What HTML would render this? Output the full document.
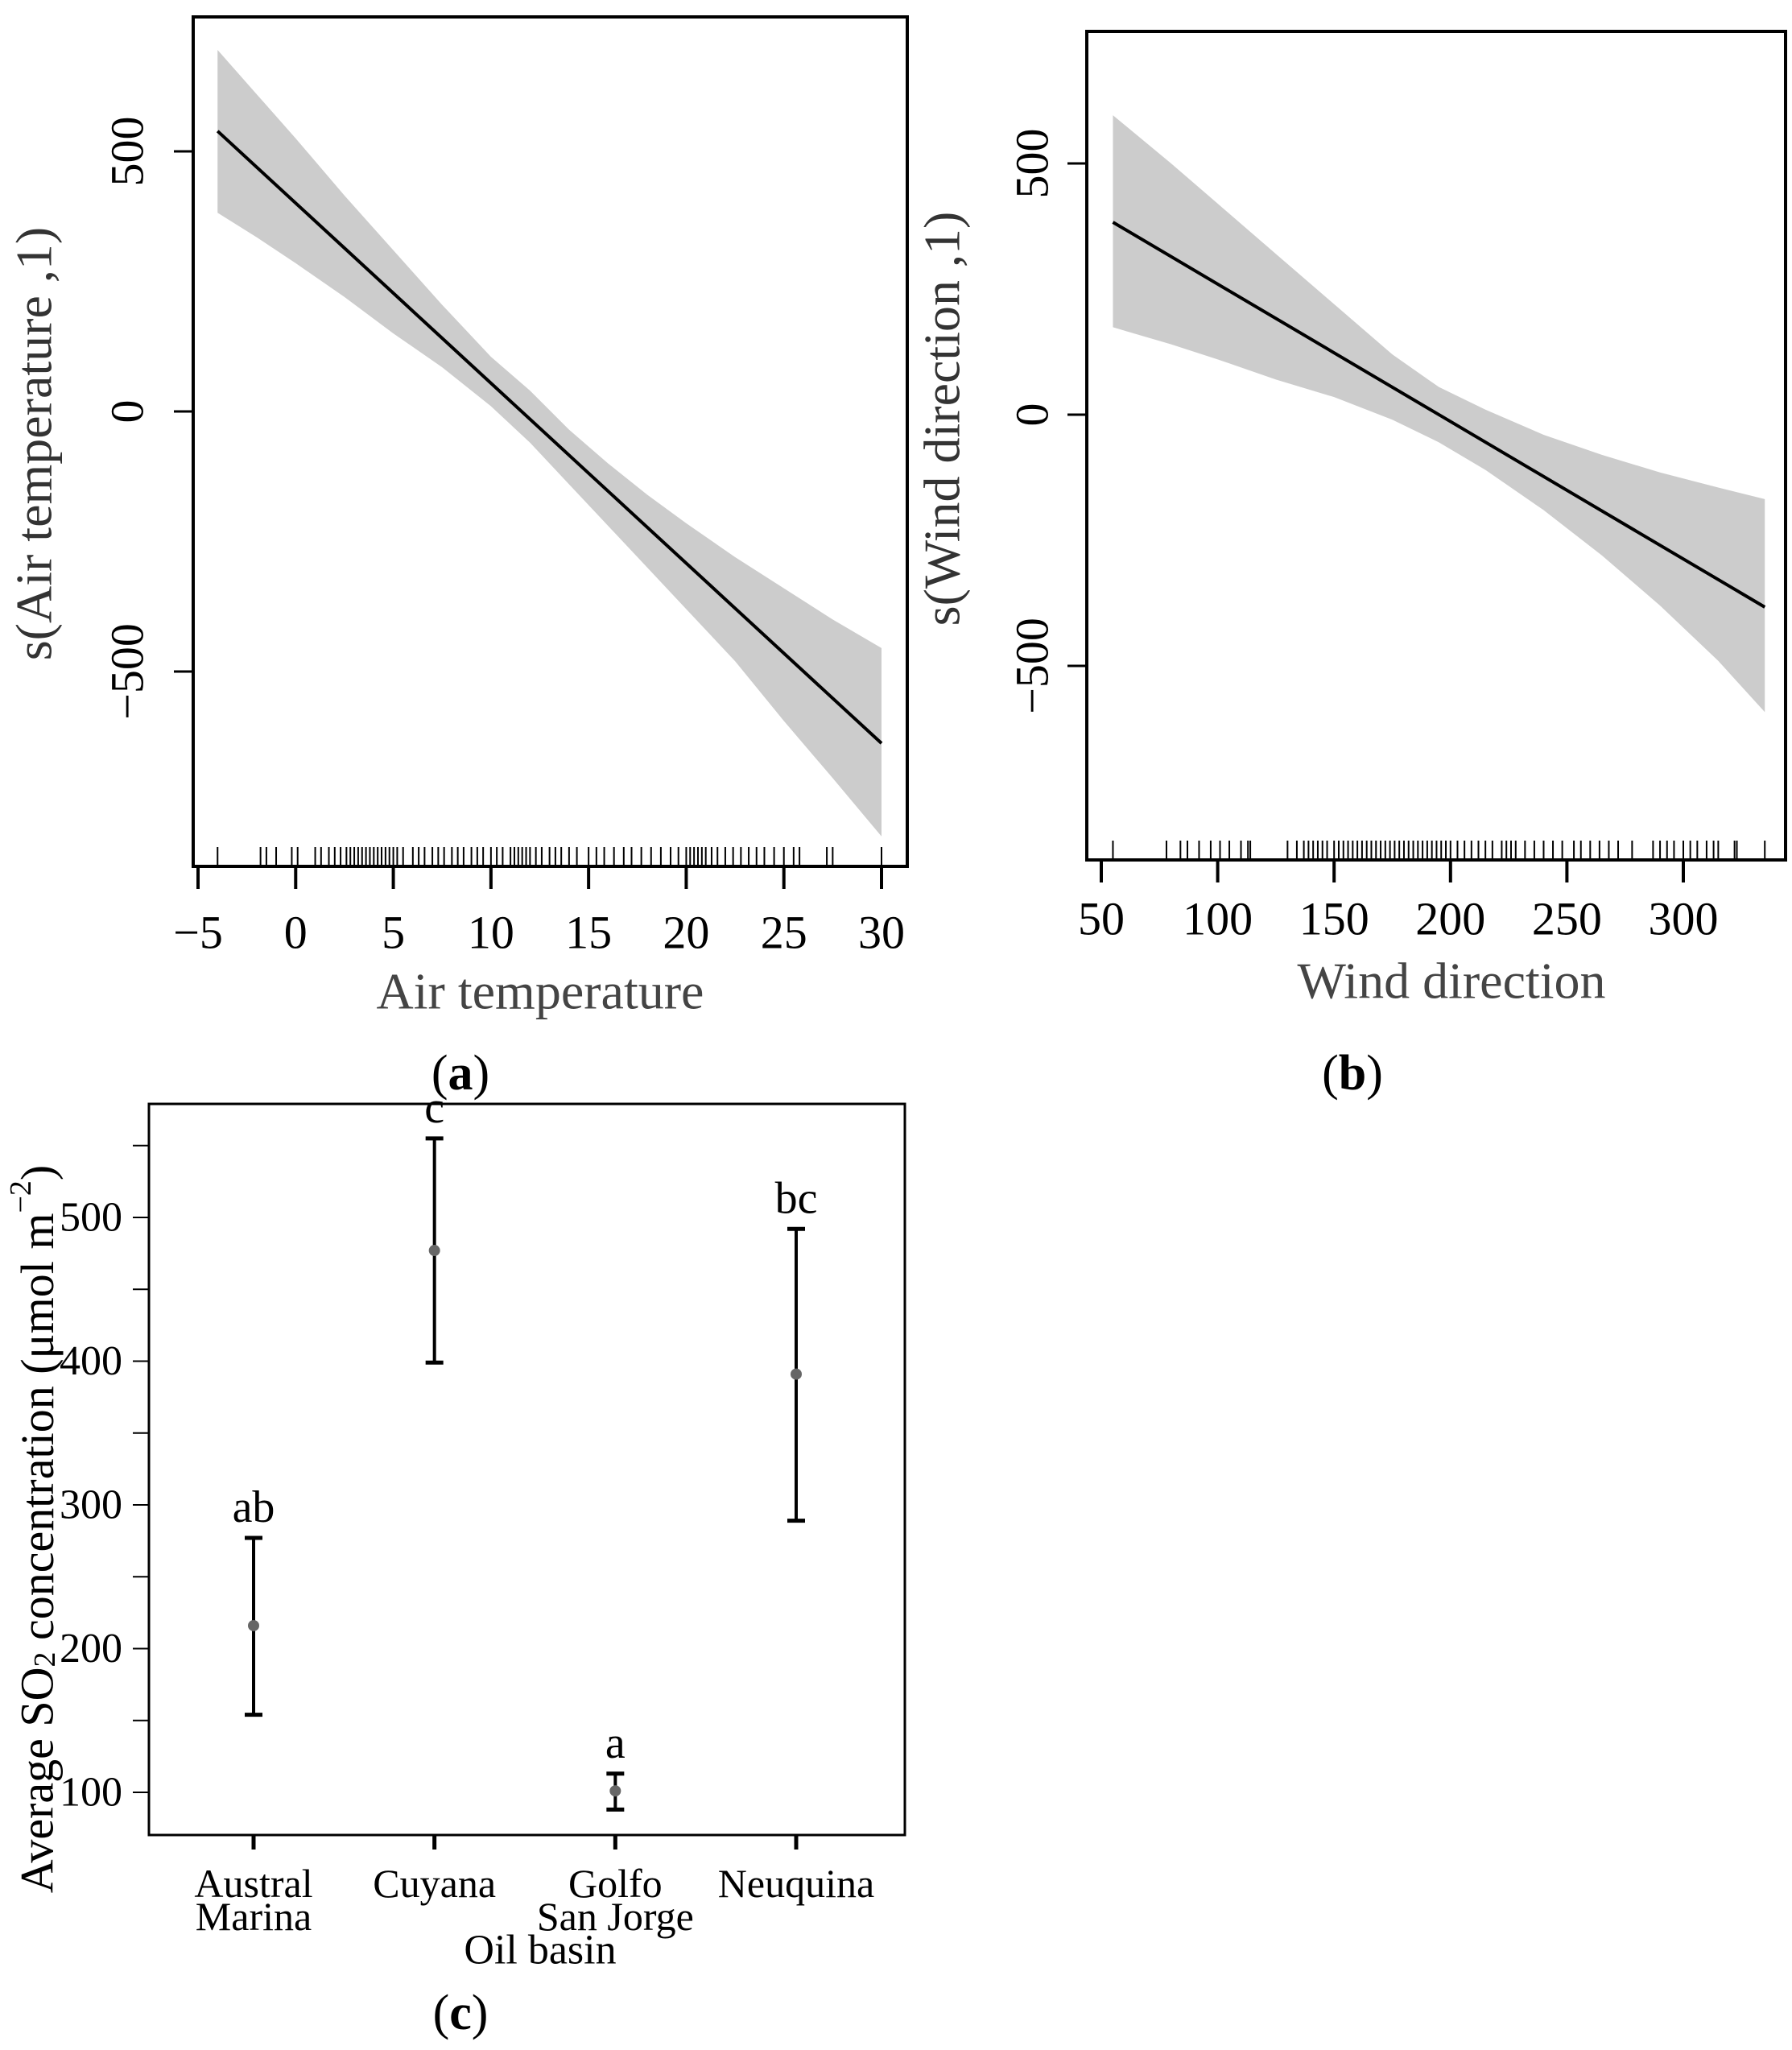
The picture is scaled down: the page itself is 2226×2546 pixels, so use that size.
<!DOCTYPE html>
<html><head><meta charset="utf-8"><style>
html,body{margin:0;padding:0;background:#fff;}
svg{display:block;font-family:"Liberation Serif",serif;}
</style></head><body>
<svg id="chart" width="2226" height="2546" viewBox="0 0 2226 2546" xmlns="http://www.w3.org/2000/svg"></svg>
<script>
// ---- Panel (a) data ----
const aTicksX = [-5,0,5,10,15,20,25,30];
const aTicksY = [500,0,-500];
const aLineX = [-4,30];
const aLineY = [539,-638];
const aBandX = [-4,-2,0,2.5,5,7.5,10,12,14,16,18,20,22.5,25,27.5,30];
const aBandUpper = [695,610,525,415,310,205,105,40,-35,-100,-160,-215,-280,-340,-400,-455];
const aBandLower = [382,335,285,220,150,85,10,-60,-140,-220,-300,-380,-480,-595,-705,-817];
const aRug = [-4,-1.8,-1.5,-1,-0.2,0.1,1,1.3,1.7,2,2.3,2.6,2.8,3,3.2,3.4,3.6,3.8,4,4.2,4.4,4.6,4.8,5,5.2,5.5,6,6.3,6.6,7,7.3,7.6,8,8.3,8.6,9,9.3,9.6,10,10.3,10.6,11,11.2,11.4,11.6,11.8,12,12.3,12.6,13,13.3,13.6,14,14.4,15,15.4,15.8,16.3,16.8,17.2,17.7,18.2,18.7,19.2,19.6,20,20.2,20.4,20.6,20.8,21,21.3,21.6,22,22.4,22.8,23.2,23.6,24,24.5,25,25.5,25.8,27.2,27.5,30];
// ---- Panel (b) data ----
const bTicksX = [50,100,150,200,250,300];
const bTicksY = [500,0,-500];
const bLineX = [55,335];
const bLineY = [383,-383];
const bBandX = [55,80,100,125,150,175,195,215,240,265,290,315,335];
const bBandUpper = [596,500,420,320,220,120,55,10,-40,-80,-115,-145,-168];
const bBandLower = [174,140,110,70,35,-10,-55,-110,-190,-280,-380,-490,-592];
const bRug = [55,78,84,87,92,97,101,105,110,113,114,130,134,137,139,141,143,145,147,150,152,154,156,158,160,162,164,166,168,170,172,174,176,178,180,182,184,186,188,190,192,194,196,198,200,203,206,209,212,215,218,222,224,226,228,232,236,240,244,248,253,256,260,264,268,272,278,287,290,293,296,300,303,306,310,313,315,322,323,335];
// ---- Panel (c) data ----
const cCats = [["Austral","Marina"],["Cuyana"],["Golfo","San Jorge"],["Neuquina"]];
const cMeans = [216,477,101,391];
const cUpper = [277,555,113,492];
const cLower = [154,399,88,289];
const cLetters = ["ab","c","a","bc"];
const cTicksY = [100,200,300,400,500];
const cMinorY = [150,250,350,450,550];

const NS="http://www.w3.org/2000/svg";
const svg=document.getElementById('chart');
function mk(tag,attrs,parent){const e=document.createElementNS(NS,tag);for(const k in attrs)e.setAttribute(k,attrs[k]);(parent||svg).appendChild(e);return e;}
function txt(s,attrs,parent){const e=mk('text',attrs,parent);e.textContent=s;return e;}
function lin(x0,x1,p0,p1){return v=>p0+(v-x0)*(p1-p0)/(x1-x0);}

function gamPanel(o){
  const g=mk('g',{});
  
  
  const X=lin(o.xa,o.xb,o.pxa,o.pxb), Y=lin(0,500,o.py0,o.py500);
  let pts=o.bandX.map((v,i)=>X(v)+','+Y(o.up[i]));
  pts=pts.concat(o.bandX.slice().reverse().map((v,i)=>X(v)+','+Y(o.lo[o.lo.length-1-i])));
  const band=mk('polygon',{points:pts.join(' '),fill:'#cccccc',stroke:'none'},g);
  
  
  const ln=mk('line',{x1:X(o.lineX[0]),y1:Y(o.lineY[0]),x2:X(o.lineX[1]),y2:Y(o.lineY[1]),stroke:'#000','stroke-width':4},g);
  
  
  const rug=mk('g',{},g);
  
  
  o.rug.forEach(v=>mk('line',{x1:X(v),x2:X(v),y1:o.fb-24,y2:o.fb,stroke:'#000','stroke-width':2},rug));
  const fr=mk('rect',{x:o.fl,y:o.ft,width:o.fr-o.fl,height:o.fb-o.ft,fill:'none',stroke:'#000','stroke-width':4},g);
  
  
  const xa=mk('g',{},g);
  
  
  mk('line',{x1:X(o.ticksX[0]),x2:X(o.ticksX[o.ticksX.length-1]),y1:o.fb,y2:o.fb,stroke:'#000','stroke-width':4},xa);
  o.ticksX.forEach(v=>{
    mk('line',{x1:X(v),x2:X(v),y1:o.fb,y2:o.fb+28,stroke:'#000','stroke-width':4},xa);
    const t=txt(String(v).replace('-','\u2212'),{x:X(v),y:o.tly,'text-anchor':'middle','font-size':58,'dominant-baseline':'central'},xa);
    
    
  });
  const ya=mk('g',{},g);
  
  
  o.ticksY.forEach(v=>{
    mk('line',{x1:o.fl-24,x2:o.fl,y1:Y(v),y2:Y(v),stroke:'#000','stroke-width':3},ya);
    const t=txt(String(v).replace('-','\u2212'),{x:0,y:0,'text-anchor':'middle','font-size':58,'dominant-baseline':'central',transform:`translate(${o.ylx},${Y(v)}) rotate(-90)`},ya);
    
    
  });
  const xt=txt(o.xtitle,{x:o.xtx,y:o.xty,'text-anchor':'middle','font-size':64,fill:'#444','dominant-baseline':'central'},g);
  
  
  const yt=txt(o.ytitle,{x:0,y:0,'text-anchor':'middle','font-size':64,fill:'#333','dominant-baseline':'central',transform:`translate(${o.ytx},${o.yty}) rotate(-90)`},g);
  
  
  const pl=txt('',{x:o.plx,y:1333,'text-anchor':'middle','font-size':62,'dominant-baseline':'central'},g);
  pl.innerHTML='(<tspan font-weight="bold">'+o.pl+'</tspan>)';
  
  
}

gamPanel({name:'panel-a-air-temperature',xa:-5,xb:30,pxa:246,pxb:1095,py0:511,py500:188,fl:240,ft:21,fr:1127,fb:1076,
  bandX:aBandX,up:aBandUpper,lo:aBandLower,lineX:aLineX,lineY:aLineY,rug:aRug,ticksX:aTicksX,ticksY:aTicksY,
  tly:1158,ylx:158,xtitle:'Air temperature',xtx:671,xty:1231,ytitle:'s(Air temperature ,1)',ytx:42,yty:551,plx:572,pl:'a'});
gamPanel({name:'panel-b-wind-direction',xa:50,xb:300,pxa:1368,pxb:2091,py0:515,py500:203,fl:1350,ft:39,fr:2218,fb:1068,
  bandX:bBandX,up:bBandUpper,lo:bBandLower,lineX:bLineX,lineY:bLineY,rug:bRug,ticksX:bTicksX,ticksY:bTicksY,
  tly:1141,ylx:1282,xtitle:'Wind direction',xtx:1803,xty:1218,ytitle:'s(Wind direction ,1)',ytx:1170,yty:520,plx:1680,pl:'b'});

// ---- Panel (c) ----
(function(){
  const g=mk('g',{});
  
  
  const fl=185,ft=1371,fr=1124,fb=2279;
  const Y=lin(100,500,2226,1512);
  const catX=[315,540,765,989];
  const X=i=>catX[0]+i*(catX[3]-catX[0])/(cCats.length-1);
  const fm=mk('rect',{x:fl,y:ft,width:fr-fl,height:fb-ft,fill:'none',stroke:'#000','stroke-width':3},g);
  
  
  const ya=mk('g',{},g);
  
  
  cTicksY.concat(cMinorY).forEach(v=>mk('line',{x1:fl-20,x2:fl,y1:Y(v),y2:Y(v),stroke:'#000','stroke-width':2},ya));
  cTicksY.forEach(v=>{
    const t=txt(String(v),{x:152,y:Y(v),'text-anchor':'end','font-size':52,'dominant-baseline':'central'},ya);
    
    
  });
  const yt=txt('',{x:0,y:0,'text-anchor':'middle','font-size':58,'dominant-baseline':'central',transform:'translate(46,1899) rotate(-90)'},g);
  yt.innerHTML='Average SO<tspan font-size="38" dy="10">2</tspan><tspan dy="-10"> concentration (μmol m</tspan><tspan font-size="38" dy="-20">−2</tspan><tspan dy="20">)</tspan>';
  
  
  cCats.forEach((c,i)=>{
    const x=X(i);
    const tk=mk('line',{x1:x,x2:x,y1:fb,y2:fb+18,stroke:'#000','stroke-width':5},g);
    
    
    c.forEach((s,j)=>{
      const t=txt(s,{x:x,y:2339+j*41,'text-anchor':'middle','font-size':50,'dominant-baseline':'central'},g);
      
      
    });
    const eb=mk('g',{},g);
    
    
    mk('line',{x1:x,x2:x,y1:Y(cUpper[i]),y2:Y(cLower[i]),stroke:'#000','stroke-width':4},eb);
    mk('line',{x1:x-11,x2:x+11,y1:Y(cUpper[i]),y2:Y(cUpper[i]),stroke:'#000','stroke-width':5},eb);
    mk('line',{x1:x-11,x2:x+11,y1:Y(cLower[i]),y2:Y(cLower[i]),stroke:'#000','stroke-width':5},eb);
    const pt=mk('circle',{cx:x,cy:Y(cMeans[i]),r:7,fill:'#666'},g);
    
    
    const lt=txt(cLetters[i],{x:x,y:Y(cUpper[i])-38,'text-anchor':'middle','font-size':56,'dominant-baseline':'central'},g);
    
    
  });
  const xt=txt('Oil basin',{x:671,y:2422,'text-anchor':'middle','font-size':52,'dominant-baseline':'central'},g);
  
  
  const pl=txt('',{x:572,y:2500,'text-anchor':'middle','font-size':62,'dominant-baseline':'central'},g);
  pl.innerHTML='(<tspan font-weight="bold">c</tspan>)';
  
  
})();
</script>
</body></html>
